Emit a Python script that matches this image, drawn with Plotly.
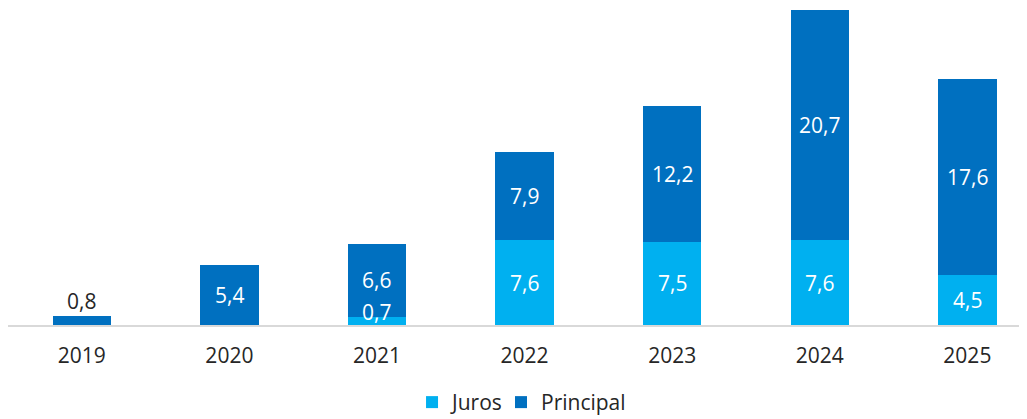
import plotly.graph_objects as go

years = ["2019", "2020", "2021", "2022", "2023", "2024", "2025"]
juros = [0.0, 0.0, 0.7, 7.6, 7.5, 7.6, 4.5]
principal = [0.8, 5.4, 6.6, 7.9, 12.2, 20.7, 17.6]

c_juros = "#00B0F0"
c_principal = "#0070C0"
font_family = "Open Sans, Liberation Sans, sans-serif"
fs = 21

fig = go.Figure()
fig.add_trace(go.Bar(x=list(range(len(years))), y=juros, name="Juros",
                     marker=dict(color=c_juros, line=dict(width=0)), width=0.395,
                     legend="legend"))
fig.add_trace(go.Bar(x=list(range(len(years))), y=principal, name="Principal",
                     marker=dict(color=c_principal, line=dict(width=0)), width=0.395,
                     legend="legend2"))

def fmt(v):
    return f"{v:.1f}".replace(".", ",")

annotations = []
for i, (j, p) in enumerate(zip(juros, principal)):
    if j > 0:
        small = j < 1.5
        annotations.append(dict(x=i, y=j / 2, text=fmt(j), showarrow=False,
                                yshift=9 if small else 0,
                                font=dict(color="white", size=fs, family=font_family)))
    if p > 0:
        if p < 1.5:
            annotations.append(dict(x=i, y=j + p, text=fmt(p), showarrow=False,
                                    yanchor="bottom", yshift=-1,
                                    font=dict(color="#262626", size=fs, family=font_family)))
        else:
            annotations.append(dict(x=i, y=j + p / 2, text=fmt(p), showarrow=False,
                                    font=dict(color="white", size=fs, family=font_family)))

legend_common = dict(orientation="h", xanchor="left", y=-0.311, yanchor="bottom",
                     font=dict(size=fs, color="#262626"), itemwidth=30,
                     bgcolor="rgba(0,0,0,0)")

fig.update_layout(
    barmode="stack",
    width=1019, height=411,
    margin=dict(l=0, r=0, t=2, b=94, autoexpand=False),
    paper_bgcolor="white", plot_bgcolor="white",
    font=dict(family=font_family, size=fs, color="#262626"),
    annotations=annotations,
    showlegend=True,
    legend=dict(x=0.3965, **legend_common),
    legend2=dict(x=0.4838, **legend_common),
    xaxis=dict(tickmode="array", tickvals=list(range(len(years))), ticktext=years,
               range=[-0.5, 6.404], showgrid=False, zeroline=False,
               showline=True, linecolor="#D9D9D9", linewidth=2,
               ticks="", ticklabelstandoff=11,
               tickfont=dict(size=fs, color="#262626")),
    yaxis=dict(range=[0, 28.3], visible=False, showgrid=False, zeroline=False),
)

fig.write_html("out.html")
